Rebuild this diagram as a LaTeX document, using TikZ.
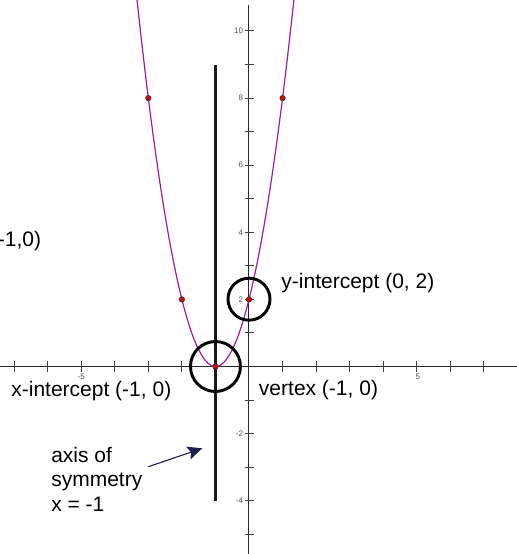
\documentclass[tikz,border=0pt]{standalone}
\usepackage{fontspec}
\setmainfont{Liberation Sans}
\usetikzlibrary{arrows.meta}
\definecolor{parab}{RGB}{155,30,155}
\definecolor{arrowc}{RGB}{30,30,80}
\definecolor{ticklab}{RGB}{80,80,80}
\begin{document}
\begin{tikzpicture}[x=25.1625pt,y=25.1625pt,
  axisline/.style={draw=black!85, line width=0.75pt},
  tickmark/.style={draw=black!75, line width=0.75pt},
  ticklabel/.style={font=\fontsize{6}{7}\selectfont, text=ticklab, inner sep=0pt},
  lbl/.style={font=\fontsize{15.75}{18}\selectfont, inner sep=0pt},
  dotpt/.style={circle, fill=red!90!black, draw=black!80, line width=0.55pt, minimum size=4pt, inner sep=0pt},
  symline/.style={line width=2.4pt, draw=black!90},
  ring/.style={line width=2.2pt, draw=black},
  curve/.style={draw=parab, line width=0.9pt},
]
\useasboundingbox (-7.4218,-5.5887) rectangle (7.9881,10.9240);
% axes
\coordinate (xl) at (-7.4218,0);
\coordinate (xr) at (7.9881,0);
\coordinate (yt) at (0,10.775);
\coordinate (yb) at (0,-5.5887);
\draw[axisline] (xl) -- (xr);
\draw[axisline] (yt) -- (yb);
\foreach \i in {-7,...,-1,1,2,...,7} \draw[tickmark] (\i,-0.15) -- (\i,0.15);
\foreach \j in {-5,...,-1,1,2,...,10} \draw[tickmark] (-0.12,\j) -- (0.15,\j);
\foreach \j in {10,8,6,4,2,-2,-4} \node[ticklabel, anchor=east] (yl\j) at (-0.17,\j) {\j};
\node[ticklabel] (xlm5) at (-5.0,-0.31) {-5};
\node[ticklabel] (xlp5) at (5.03,-0.31) {5};
% parabola
\draw[curve] plot[domain=-3.337:1.337, samples=120, smooth] (\x,{2*(\x+1)^2});
% axis of symmetry
\coordinate (st) at (-1,9);
\coordinate (sb) at (-1,-4);
\draw[symline] (st) -- (sb);
% rings
\draw[ring] (-1,0) circle (0.745);
\draw[ring] (0,2.006) circle (0.626);
% points
\foreach \p/\q [count=\k] in {-3/8,1/8,-2/2,0/2,-1/0} \node[dotpt] (pt\k) at (\p,\q) {};
% labels
\node[lbl, anchor=base west] (yint) at (0.96,2.331) {y-intercept (0, 2)};
\node[lbl, anchor=base west] (xint) at (-7.09,-0.900) {x-intercept (-1, 0)};
\node[lbl, anchor=base west] (vert) at (0.29,-0.870) {vertex (-1, 0)};
\node[lbl, anchor=base east] (cut) at (-6.19,3.59) {-1,0)};
\node[lbl, anchor=base west] (axs1) at (-5.90,-2.855) {axis of};
\node[lbl, anchor=base west] (axs2) at (-5.90,-3.582) {symmetry};
\node[lbl, anchor=base west] (axs3) at (-5.90,-4.307) {x = -1};
% arrow
\coordinate (atail) at (-3.0,-2.987);
\coordinate (atip) at (-1.392,-2.438);
\draw[draw=arrowc, fill=arrowc, line width=0.8pt, -{Stealth[length=11pt,width=10pt,inset=2pt]}] (atail) -- (atip);
\end{tikzpicture}
\end{document}
